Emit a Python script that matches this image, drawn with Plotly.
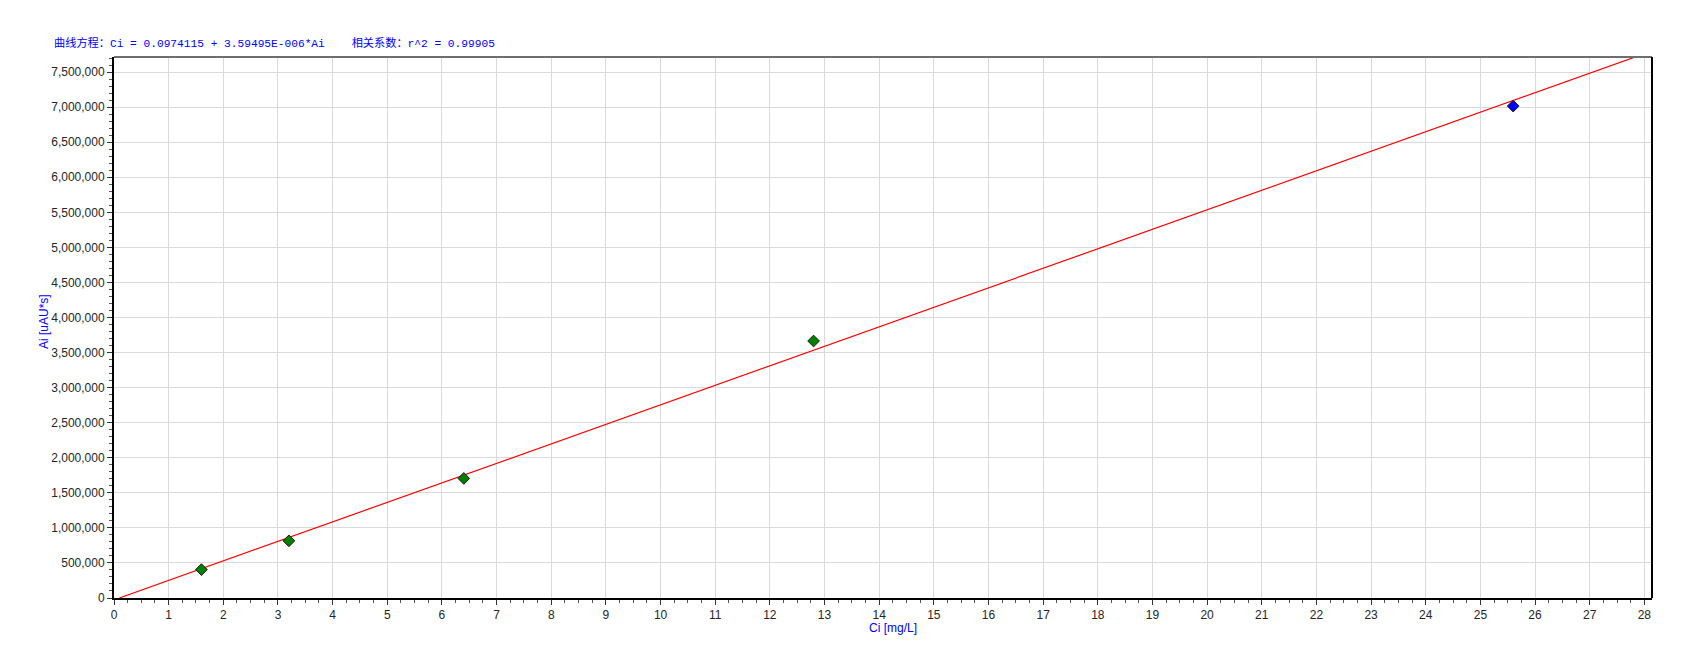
import plotly.graph_objects as go

# ---- data ----
conc = [1.6, 3.2, 6.4, 12.8, 25.6]                 # Ci [mg/L]
area = [405000, 815000, 1705000, 3665000, 7015000]  # Ai [uAU*s]
point_colors = ["#008000", "#008000", "#008000", "#008000", "#0000ff"]

intercept = 0.0974115
slope = 3.59495e-06
r2 = 0.99905

x_ticks = list(range(0, 29))
y_ticks = list(range(0, 7500001, 500000))

x_max = 28.14
y_max = 7.715e6

# fitted line Ci = intercept + slope*Ai  ->  Ai = (Ci - intercept)/slope
line_x = [intercept, x_max]
line_y = [(c - intercept) / slope for c in line_x]

fig = go.Figure()
fig.add_trace(go.Scatter(
    x=line_x, y=line_y, mode="lines",
    line=dict(color="#ff0000", width=1.2),
    hoverinfo="skip", showlegend=False, cliponaxis=True,
))
fig.add_trace(go.Scatter(
    x=conc, y=area, mode="markers",
    marker=dict(symbol="diamond", size=9, color=point_colors,
                line=dict(color="#1a1a1a", width=1)),
    showlegend=False, cliponaxis=False,
))

title_text = ("曲线方程：Ci = 0.0974115 + 3.59495E-006*Ai"
              + "\u00a0" * 4 + "相关系数：r^2 = " + f"{r2:.5f}")

tick_font = dict(family="Liberation Sans, Arial, sans-serif", size=12, color="#262626")

PW = 1538  # plot width in px
PH = 541   # plot height in px
L, T = 114, 57  # plot left/top in page px

fig.update_layout(
    width=1668, height=639,
    margin=dict(l=106, r=24, t=49, b=49),
    paper_bgcolor="white", plot_bgcolor="white",
    xaxis=dict(
        range=[0, x_max], tickvals=x_ticks, ticktext=[str(v) for v in x_ticks],
        showgrid=True, gridcolor="#d9d9d9", gridwidth=1,
        showline=True, linecolor="black", linewidth=2,
        ticks="outside", ticklen=5, tickcolor="#333", tickwidth=1,
        minor=dict(dtick=0.25, ticks="outside", ticklen=3, tickcolor="#555", showgrid=False),
        tickfont=tick_font, zeroline=False, fixedrange=True,
    ),
    yaxis=dict(
        range=[0, y_max], tickvals=y_ticks, ticktext=[f"{v:,}" for v in y_ticks],
        showgrid=True, gridcolor="#d9d9d9", gridwidth=1,
        showline=True, linecolor="black", linewidth=2,
        ticks="outside", ticklen=5, tickcolor="#333", tickwidth=1,
        minor=dict(dtick=100000, ticks="outside", ticklen=3, tickcolor="#555", showgrid=False),
        tickfont=tick_font, zeroline=False, fixedrange=True,
    ),
    shapes=[
        dict(type="line", xref="paper", yref="paper", x0=0, x1=1, y0=1, y1=1,
             line=dict(color="#6e6e6e", width=2)),
        dict(type="line", xref="paper", yref="paper", x0=1, x1=1, y0=0, y1=1,
             line=dict(color="black", width=2)),
    ],
    annotations=[
        dict(text=title_text, xref="paper", yref="paper",
             x=(52 - L) / PW, y=(T + PH - 43) / PH, xanchor="left", yanchor="middle",
             showarrow=False,
             font=dict(family="Liberation Mono, Noto Sans CJK SC, monospace", size=11.2, color="#0000ff")),
        dict(text="Ci [mg/L]", xref="paper", yref="paper",
             x=(893 - L) / PW, y=(T + PH - 628) / PH, xanchor="center", yanchor="middle",
             showarrow=False,
             font=dict(family="Liberation Sans, Arial, sans-serif", size=12, color="#0000ff")),
        dict(text="Ai [uAU*s]", xref="paper", yref="paper",
             x=(44 - L) / PW, y=(T + PH - 322) / PH, xanchor="center", yanchor="middle",
             textangle=-90, showarrow=False,
             font=dict(family="Liberation Sans, Arial, sans-serif", size=12, color="#0000ff")),
    ],
)

fig.write_html("out.html")
